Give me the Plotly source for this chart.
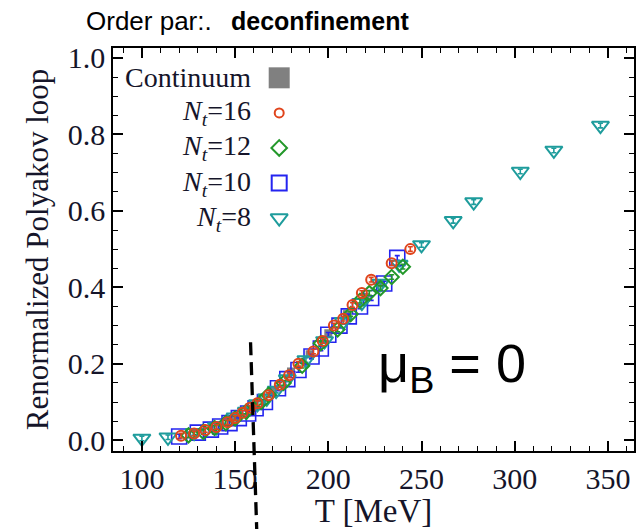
import plotly.graph_objects as go

# ---------------- data ----------------
T_cont = [150, 160, 170, 180, 190, 200, 210, 220, 228]
P_cont = [0.06, 0.09, 0.13, 0.18, 0.225, 0.28, 0.33, 0.375, 0.41]

T_16 = [121, 128, 134, 140, 146, 150, 154, 158, 162, 168, 174, 179, 184, 192, 197, 203, 208, 213, 218, 223, 234, 244]
P_16 = [0.012, 0.018, 0.027, 0.035, 0.047, 0.058, 0.072, 0.085, 0.097, 0.118, 0.145, 0.17, 0.200, 0.232, 0.26, 0.300, 0.318, 0.354, 0.385, 0.42, 0.463, 0.50]

T_12 = [125, 133, 139, 145, 150, 156, 164, 168, 176, 186, 196, 205, 212, 217, 222, 228, 234, 240]
P_12 = [0.013, 0.022, 0.032, 0.045, 0.057, 0.075, 0.10, 0.119, 0.15, 0.195, 0.254, 0.29, 0.33, 0.365, 0.385, 0.398, 0.427, 0.454]

T_10 = [120, 130, 137, 142, 147, 152, 157, 161, 166, 173, 178, 184, 191, 196, 200, 206, 211, 217, 223, 230, 237]
P_10 = [0.01, 0.02, 0.028, 0.036, 0.045, 0.058, 0.07, 0.084, 0.10, 0.136, 0.16, 0.184, 0.219, 0.24, 0.276, 0.30, 0.324, 0.35, 0.372, 0.41, 0.477]

T_8 = [100, 114, 128, 140, 150, 156, 162, 167, 172, 178, 188, 198, 208, 218, 228, 238, 250, 267, 278, 303, 321, 346]
P_8 = [0.005, 0.008, 0.02, 0.035, 0.06, 0.075, 0.095, 0.11, 0.13, 0.16, 0.21, 0.26, 0.31, 0.36, 0.41, 0.46, 0.511, 0.574, 0.623, 0.703, 0.758, 0.823]

ERR = 0.006

legend_labels = ["Continuum",
                 "<i>N</i><sub><i>t</i></sub>=16",
                 "<i>N</i><sub><i>t</i></sub>=12",
                 "<i>N</i><sub><i>t</i></sub>=10",
                 "<i>N</i><sub><i>t</i></sub>=8"]

x_tickvals = [100, 150, 200, 250, 300, 350]
y_tickvals = [0.0, 0.2, 0.4, 0.6, 0.8, 1.0]

# ---------------- styles ----------------
GRAY = "#808080"
RED = "#E0441C"
GREEN = "#23982A"
BLUE = "#2424F0"
TEAL = "#1E9C9C"

styles = {
    "cont": dict(symbol="square", size=8, color=GRAY, line=dict(width=0)),
    "16": dict(symbol="circle-open", size=10, color=RED, line=dict(width=2, color=RED)),
    "12": dict(symbol="diamond-open", size=11, color=GREEN, line=dict(width=2, color=GREEN)),
    "10": dict(symbol="square-open", size=15, color=BLUE, line=dict(width=1.6, color=BLUE)),
    "8": dict(symbol="triangle-down-open", size=15, color=TEAL, line=dict(width=2, color=TEAL)),
}

SERIF = "Liberation Serif"
SANS = "Liberation Sans"
TXT = "#15152a"

fig = go.Figure()

def err(color):
    return dict(type="constant", value=ERR, color=color, thickness=1.6, width=2.5)

fig.add_trace(go.Scatter(x=T_cont, y=P_cont, mode="markers", marker=styles["cont"], showlegend=False))
fig.add_trace(go.Scatter(x=T_10, y=P_10, mode="markers", marker=styles["10"], error_y=err(BLUE), showlegend=False))
fig.add_trace(go.Scatter(x=T_8, y=P_8, mode="markers", marker=styles["8"], error_y=err(TEAL), showlegend=False))
fig.add_trace(go.Scatter(x=T_12, y=P_12, mode="markers", marker=styles["12"], error_y=err(GREEN), showlegend=False))
fig.add_trace(go.Scatter(x=T_16, y=P_16, mode="markers", marker=styles["16"], error_y=err(RED), showlegend=False))

# ---------------- hand-built legend (text left, symbol right) ----------------
LEG_TOP = 0.926
LEG_STEP = 0.087
LEG_SYM_X = 0.319
LEG_TXT_X = 0.268
leg_styles = [
    dict(symbol="square", size=21, color=GRAY),
    dict(symbol="circle-open", size=9, color=RED, line=dict(width=2, color=RED)),
    dict(symbol="diamond-open", size=12, color=GREEN, line=dict(width=2, color=GREEN)),
    dict(symbol="square-open", size=15, color=BLUE, line=dict(width=2, color=BLUE)),
    dict(symbol="triangle-down-open", size=15, color=TEAL, line=dict(width=2, color=TEAL)),
]
for i, (lab, st) in enumerate(zip(legend_labels, leg_styles)):
    yy = LEG_TOP - i * LEG_STEP
    fig.add_trace(go.Scatter(x=[LEG_SYM_X], y=[yy], mode="markers", marker=st,
                             xaxis="x2", yaxis="y2", showlegend=False, hoverinfo="skip"))
    fig.add_annotation(x=LEG_TXT_X, y=yy, xref="paper", yref="paper", text=lab,
                       showarrow=False, xanchor="right", yanchor="middle",
                       font=dict(family=SERIF, size=28, color=TXT))

# ---------------- title / annotations ----------------
fig.add_annotation(x=-0.056, y=1.066, xref="paper", yref="paper", text="Order par:.",
                   showarrow=False, xanchor="left", yanchor="middle",
                   font=dict(family=SANS, size=26, color="black"))
fig.add_annotation(x=0.222, y=1.066, xref="paper", yref="paper", text="<b>deconfinement</b>",
                   showarrow=False, xanchor="left", yanchor="middle",
                   font=dict(family=SANS, size=25, color="black"))
fig.add_annotation(x=0.505, y=0.208, xref="paper", yref="paper", text="μ<sub>B</sub> = 0",
                   showarrow=False, xanchor="left", yanchor="middle",
                   font=dict(family=SANS, size=54, color="black"))

fig.add_shape(type="line", xref="paper", yref="paper", x0=0.264, y0=0.270, x1=0.276, y1=-0.20,
              line=dict(color="black", width=3.3, dash="13px,7px"))

axis_common = dict(
    showline=True, linecolor="black", linewidth=1.5, mirror="allticks",
    ticks="inside", ticklen=10, tickwidth=1.5, tickcolor="black",
    showgrid=False, zeroline=False,
    tickfont=dict(family=SERIF, size=30, color=TXT),
)

fig.update_layout(
    width=640, height=529,
    margin=dict(l=113, r=4, t=48, b=78),
    paper_bgcolor="white", plot_bgcolor="white",
    showlegend=False,
    xaxis=dict(range=[84.5, 364], tickvals=x_tickvals,
               minor=dict(dtick=10, tick0=0, ticks="inside", ticklen=5, tickwidth=1.2, tickcolor="black"),
               title=dict(text="T [MeV]", font=dict(family=SERIF, size=33, color=TXT), standoff=6),
               **axis_common),
    yaxis=dict(range=[-0.028, 1.026], tickvals=y_tickvals, tickformat=".1f",
               minor=dict(dtick=0.05, tick0=0, ticks="inside", ticklen=5, tickwidth=1.2, tickcolor="black"),
               title=dict(text="Renormalized Polyakov loop", font=dict(family=SERIF, size=31, color=TXT), standoff=10),
               **axis_common),
    xaxis2=dict(overlaying="x", range=[0, 1], visible=False),
    yaxis2=dict(overlaying="y", range=[0, 1], visible=False),
)

fig.write_html("out.html")
